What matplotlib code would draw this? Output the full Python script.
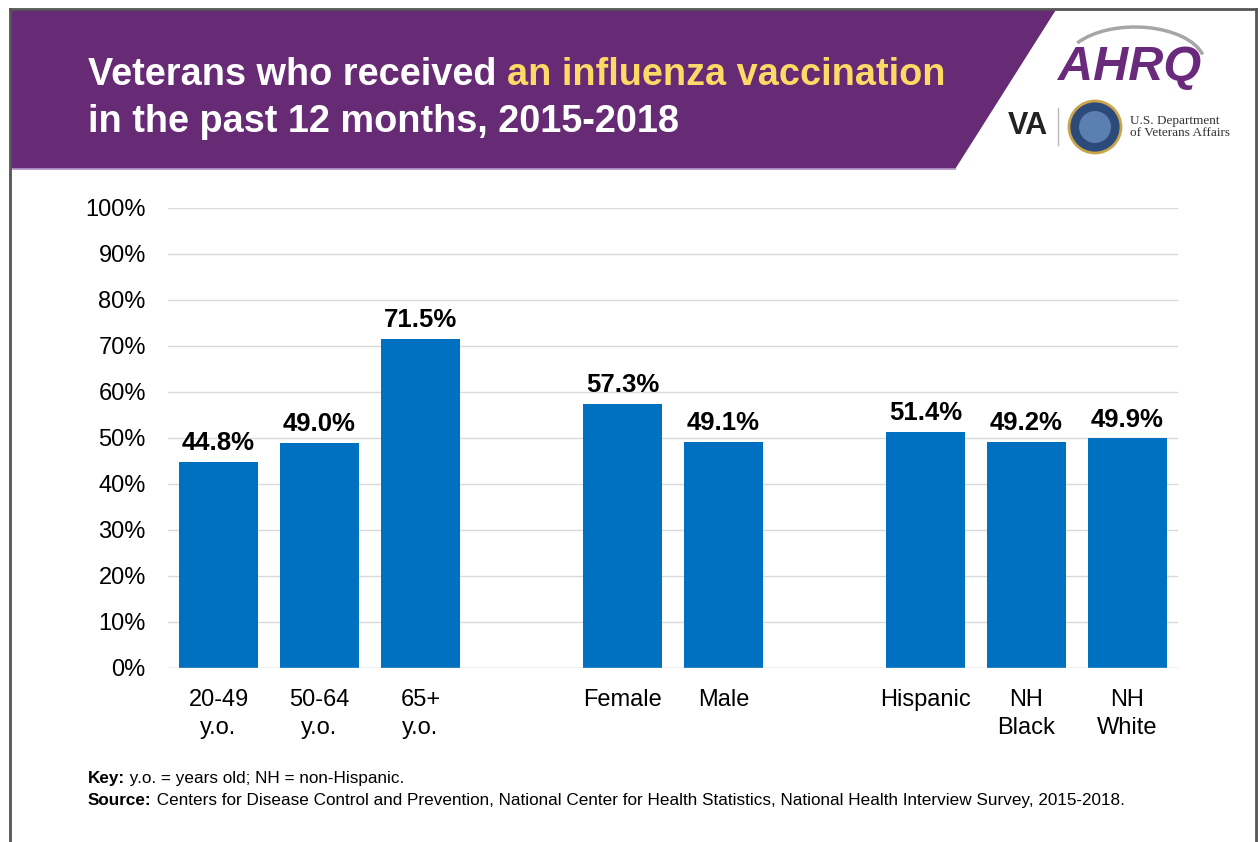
import numpy as np
import matplotlib.pyplot as plt
from matplotlib.patches import Polygon, Circle, Arc

plt.rcParams['font.family'] = ['Liberation Sans', 'DejaVu Sans']

# chart data
categories = ['20-49\ny.o.', '50-64\ny.o.', '65+\ny.o.', 'Female', 'Male',
              'Hispanic', 'NH\nBlack', 'NH\nWhite']
positions = [0, 1, 2, 4, 5, 7, 8, 9]
values = [44.8, 49.0, 71.5, 57.3, 49.1, 51.4, 49.2, 49.9]
yticks = list(range(0, 101, 10))

purple = '#672a74'
yellow = '#ffd966'
blue = '#0070c0'

fig = plt.figure(figsize=(12.6, 8.42), dpi=100)

# background layer in pixel coordinates
bg = fig.add_axes([0, 0, 1, 1])
bg.set_xlim(0, 1260)
bg.set_ylim(842, 0)
bg.axis('off')

# slide border
bg.plot([10, 10], [9, 842], color='#555555', lw=2)
bg.plot([10, 1256], [9, 9], color='#555555', lw=2)
bg.plot([1256, 1256], [9, 842], color='#555555', lw=2)

# purple banner
bg.add_patch(Polygon([[11, 10], [1055, 10], [955, 168], [11, 168]],
                     closed=True, color=purple, zorder=1))
bg.plot([11, 955], [168.5, 168.5], color='#b08fc0', lw=1.2, zorder=1)

t1 = bg.text(88, 75, 'Veterans who received ', color='white', fontsize=27.3,
             fontweight='bold', va='center', ha='left')
bg.annotate('an influenza vaccination', xy=(1, 0), xycoords=t1,
            color=yellow, fontsize=27.3, fontweight='bold', va='bottom', ha='left')
bg.text(88, 122, 'in the past 12 months, 2015-2018', color='white', fontsize=27.3,
        fontweight='bold', va='center', ha='left')

# logos (approximate)
bg.add_patch(Arc((1135, 64), 140, 74, theta1=200, theta2=352, color='#a6a6a6', lw=2.5))
bg.text(1130, 68, 'AHRQ', color='#6a2a7c', fontsize=35, fontweight='bold',
        style='italic', ha='center', va='center')
bg.text(1028, 126, 'VA', color='#222222', fontsize=22, fontweight='bold',
        ha='center', va='center')
bg.plot([1058, 1058], [108, 145], color='#bbbbbb', lw=1)
bg.add_patch(Circle((1095, 127), 26, facecolor='#2c4a7a', edgecolor='#c9a44a', lw=2))
bg.add_patch(Circle((1095, 127), 16, facecolor='#5a7fb0', edgecolor='none'))
bg.text(1130, 127, 'U.S. Department\nof Veterans Affairs', color='#333333',
        fontsize=9.5, family=['Liberation Serif', 'DejaVu Serif'],
        ha='left', va='center', linespacing=0.95)

# footer
k = bg.text(88, 783, 'Key:', fontsize=12.3, fontweight='bold', va='baseline')
bg.annotate(' y.o. = years old; NH = non-Hispanic.', xy=(1, 783),
            xycoords=(k, 'data'), fontsize=12.3, va='baseline', ha='left')
s = bg.text(88, 805, 'Source:', fontsize=12.3, fontweight='bold', va='baseline')
bg.annotate(' Centers for Disease Control and Prevention, National Center for Health '
            'Statistics, National Health Interview Survey, 2015-2018.',
            xy=(1, 805), xycoords=(s, 'data'), fontsize=12.3, va='baseline', ha='left')

# bar chart
ax = fig.add_axes([168 / 1260, 1 - 668 / 842, (1178 - 168) / 1260, (668 - 208) / 842])
ax.set_facecolor('none')
ax.bar(positions, values, width=0.79, color=blue, zorder=3)
ax.set_xlim(-0.5, 9.5)
ax.set_ylim(0, 100)
ax.set_yticks(yticks)
ax.set_yticklabels([f'{t}%' for t in yticks], fontsize=17)
ax.set_xticks(positions)
ax.set_xticklabels(categories, fontsize=17, linespacing=1.35)
ax.tick_params(length=0)
ax.tick_params(axis='y', pad=16)
ax.tick_params(axis='x', pad=15)
ax.grid(axis='y', color='#d9d9d9', lw=1, zorder=0)
for sp in ax.spines.values():
    sp.set_visible(False)
ax.axhline(0, color='#d9d9d9', lw=1, zorder=4)

for p, v in zip(positions, values):
    ax.annotate(f'{v:.1f}%', (p, v), xytext=(0, 5), textcoords='offset points',
                ha='center', va='bottom', fontsize=18.5, fontweight='bold')

fig.savefig('out.png', dpi=100)
